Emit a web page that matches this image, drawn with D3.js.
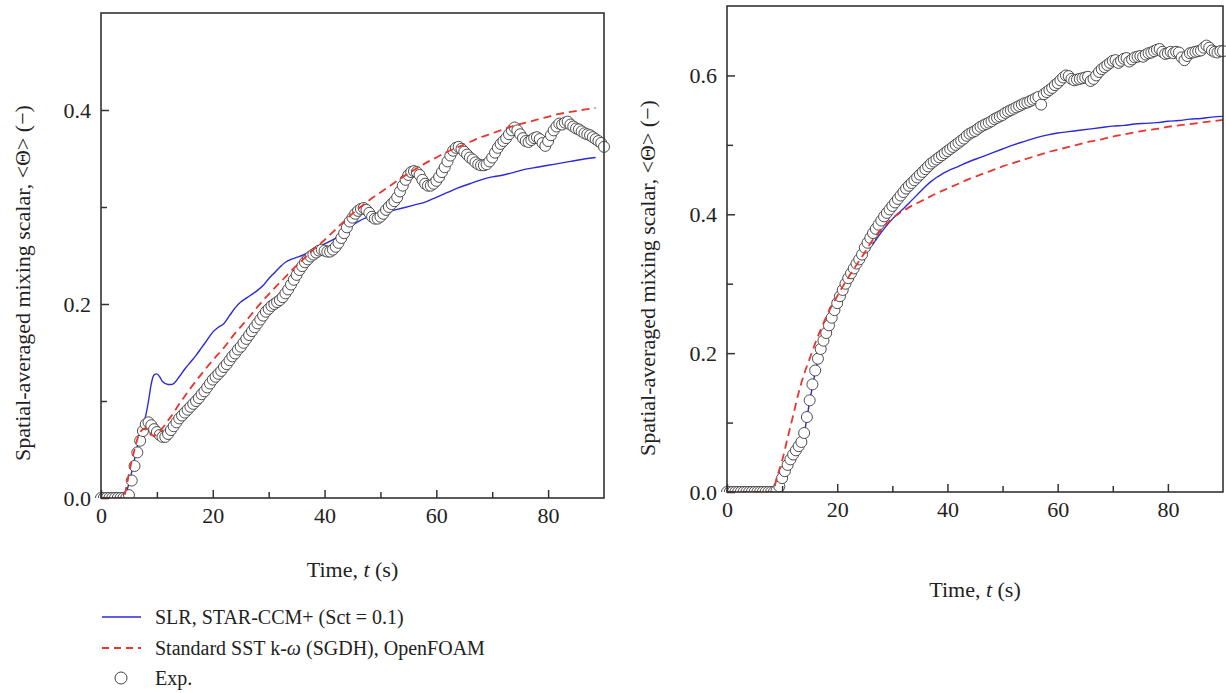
<!DOCTYPE html>
<html>
<head>
<meta charset="utf-8">
<script src="https://cdn.jsdelivr.net/npm/d3@7/dist/d3.min.js"></script>
<style>
  body { margin: 0; background: #fff; }
  svg text { font-family: "Liberation Serif", "DejaVu Serif", serif; fill: #222; }
</style>
</head>
<body>
<svg id="chart" width="1226" height="693"></svg>
<script>
// ---- data ----
const xTicks = [0, 20, 40, 60, 80];
const xMinorTicks = [10, 30, 50, 70];
const yTicksLeft = [0, 0.2, 0.4];
const yMinorLeft = [0.1, 0.3];
const yTicksRight = [0, 0.2, 0.4, 0.6];
const yMinorRight = [0.1, 0.3, 0.5];

// experiment is sampled every expStep seconds, starting at t = 0 (one row = 5 s)
const expStep = 0.5;
const expLeft = [
  0, 0, 0, 0, 0, 0, 0, 0, 0, 0,
  0.003, 0.018, 0.033, 0.047, 0.059, 0.069, 0.076, 0.078, 0.075, 0.071,
  0.068, 0.065, 0.063, 0.063, 0.066, 0.070, 0.074, 0.078, 0.082, 0.085,
  0.088, 0.091, 0.094, 0.097, 0.100, 0.103, 0.107, 0.110, 0.114, 0.118,
  0.122, 0.125, 0.128, 0.131, 0.135, 0.138, 0.142, 0.146, 0.149, 0.153,
  0.156, 0.160, 0.164, 0.168, 0.172, 0.176, 0.180, 0.184, 0.188, 0.192,
  0.195, 0.198, 0.200, 0.202, 0.204, 0.207, 0.211, 0.215, 0.220, 0.225,
  0.230, 0.235, 0.239, 0.243, 0.246, 0.249, 0.251, 0.253, 0.255, 0.256,
  0.255, 0.254, 0.254, 0.256, 0.259, 0.263, 0.268, 0.273, 0.279, 0.285,
  0.289, 0.293, 0.296, 0.298, 0.299, 0.297, 0.294, 0.290, 0.288, 0.288,
  0.290, 0.293, 0.297, 0.300, 0.303, 0.306, 0.310, 0.316, 0.322, 0.328,
  0.333, 0.336, 0.337, 0.336, 0.333, 0.328, 0.324, 0.322, 0.322, 0.324,
  0.327, 0.331, 0.336, 0.341, 0.347, 0.353, 0.358, 0.361, 0.362, 0.360,
  0.357, 0.354, 0.351, 0.349, 0.346, 0.344, 0.343, 0.343, 0.344, 0.347,
  0.351, 0.356, 0.361, 0.365, 0.368, 0.371, 0.375, 0.379, 0.382, 0.379,
  0.375, 0.371, 0.368, 0.367, 0.369, 0.371, 0.372, 0.370, 0.366, 0.363,
  0.368, 0.374, 0.379, 0.383, 0.386, 0.385, 0.387, 0.388, 0.385, 0.383,
  0.381, 0.380, 0.378, 0.376, 0.375, 0.374, 0.372, 0.370, 0.368, 0.366,
  0.362
];
const expRight = [
  0, 0, 0, 0, 0, 0, 0, 0, 0, 0,
  0, 0, 0, 0, 0, 0, 0, 0, 0.002, 0.008,
  0.020, 0.030, 0.039, 0.047, 0.054, 0.060, 0.066, 0.072, 0.085, 0.108,
  0.132, 0.155, 0.175, 0.192, 0.206, 0.218, 0.229, 0.240, 0.251, 0.262,
  0.272, 0.282, 0.291, 0.300, 0.308, 0.315, 0.322, 0.329, 0.335, 0.342,
  0.352, 0.359, 0.366, 0.373, 0.379, 0.385, 0.391, 0.397, 0.402, 0.407,
  0.412, 0.417, 0.422, 0.427, 0.432, 0.437, 0.441, 0.445, 0.449, 0.453,
  0.457, 0.461, 0.465, 0.469, 0.473, 0.476, 0.479, 0.482, 0.485, 0.488,
  0.491, 0.494, 0.497, 0.500, 0.503, 0.506, 0.509, 0.513, 0.516, 0.518,
  0.520, 0.523, 0.526, 0.528, 0.530, 0.532, 0.534, 0.537, 0.539, 0.541,
  0.543, 0.546, 0.548, 0.550, 0.552, 0.554, 0.556, 0.558, 0.560, 0.561,
  0.563, 0.565, 0.567, 0.569, 0.558, 0.573, 0.576, 0.579, 0.582, 0.586,
  0.589, 0.593, 0.597, 0.600, 0.599, 0.595, 0.593, 0.594, 0.595, 0.596,
  0.597, 0.598, 0.592, 0.595, 0.600, 0.605, 0.609, 0.612, 0.615, 0.618,
  0.621, 0.622, 0.618, 0.621, 0.624, 0.625, 0.620, 0.623, 0.626, 0.627,
  0.628, 0.627, 0.630, 0.632, 0.633, 0.635, 0.637, 0.638, 0.634, 0.631,
  0.632, 0.634, 0.632, 0.634, 0.633, 0.626, 0.622, 0.628, 0.632, 0.633,
  0.634, 0.635, 0.636, 0.640, 0.643, 0.640, 0.636, 0.634, 0.633, 0.635,
  0.635
];

// [time (s), value]
const slrLeft = [
  [0, 0], [4, 0], [5, 0.015], [6, 0.04], [7, 0.065], [7.5, 0.075], [8, 0.085], [8.5, 0.1],
  [9, 0.118], [9.5, 0.127], [10, 0.128], [10.5, 0.125], [11, 0.12], [12, 0.117], [12.5, 0.117],
  [13, 0.118], [14, 0.125], [15, 0.133], [16, 0.14], [17, 0.147], [18, 0.155], [19, 0.163],
  [20, 0.171], [21, 0.176], [22, 0.18], [23, 0.188], [24, 0.196], [25, 0.202], [26, 0.206],
  [27, 0.21], [28, 0.214], [29, 0.219], [30, 0.226], [31, 0.232], [32, 0.238], [33, 0.243],
  [34, 0.246], [35, 0.248], [36, 0.25], [38, 0.256], [40, 0.262], [42, 0.268], [44, 0.277],
  [46, 0.285], [48, 0.29], [50, 0.293], [52, 0.296], [54, 0.299], [56, 0.302], [58, 0.305],
  [60, 0.31], [62, 0.315], [64, 0.32], [66, 0.324], [68, 0.328], [70, 0.331], [72, 0.333],
  [74, 0.336], [76, 0.339], [78, 0.341], [80, 0.343], [82, 0.345], [84, 0.347], [86, 0.349],
  [88.5, 0.351]
];
const sstLeft = [
  [0, 0], [4, 0], [4.5, 0.01], [5, 0.025], [6, 0.05], [7, 0.068], [8, 0.072], [8.5, 0.068],
  [9, 0.065], [9.5, 0.064], [10, 0.066], [11, 0.072], [12, 0.08], [13, 0.088], [14, 0.097],
  [15, 0.105], [16, 0.113], [18, 0.128], [20, 0.142], [22, 0.155], [24, 0.17], [26, 0.183],
  [28, 0.197], [30, 0.21], [32, 0.222], [34, 0.234], [36, 0.245], [38, 0.256], [40, 0.266],
  [42, 0.277], [44, 0.288], [46, 0.298], [48, 0.307], [50, 0.315], [52, 0.323], [54, 0.331],
  [56, 0.338], [58, 0.345], [60, 0.351], [62, 0.357], [64, 0.362], [66, 0.367], [68, 0.372],
  [70, 0.376], [72, 0.38], [74, 0.384], [76, 0.387], [78, 0.39], [80, 0.393], [82, 0.396],
  [84, 0.398], [86, 0.4], [88.5, 0.402]
];
const slrRight = [
  [0, 0], [9, 0], [10, 0.02], [11, 0.039], [12, 0.054], [13, 0.066], [14, 0.085], [15, 0.13],
  [16, 0.172], [17, 0.204], [18, 0.228], [19, 0.25], [20, 0.27], [21, 0.288], [22, 0.303],
  [23, 0.316], [24, 0.328], [25, 0.34], [26, 0.352], [27, 0.363], [28, 0.374], [29, 0.384],
  [30, 0.393], [31, 0.401], [32, 0.408], [33, 0.416], [34, 0.424], [35, 0.432], [36, 0.44],
  [37, 0.447], [38, 0.453], [39, 0.458], [40, 0.462], [42, 0.469], [44, 0.476], [46, 0.482],
  [48, 0.488], [50, 0.494], [52, 0.5], [54, 0.505], [56, 0.51], [58, 0.514], [60, 0.517],
  [62, 0.519], [64, 0.521], [66, 0.523], [68, 0.525], [70, 0.527], [72, 0.528], [74, 0.53],
  [76, 0.531], [78, 0.532], [80, 0.534], [82, 0.535], [84, 0.537], [86, 0.538], [88, 0.54],
  [90, 0.541]
];
const sstRight = [
  [0, 0], [8.3, 0], [9, 0.02], [10, 0.045], [11, 0.078], [12, 0.11], [13, 0.143], [14, 0.17],
  [15, 0.192], [16, 0.214], [17, 0.234], [18, 0.252], [19, 0.268], [20, 0.282], [21, 0.296],
  [22, 0.309], [23, 0.321], [24, 0.333], [25, 0.345], [26, 0.358], [27, 0.369], [28, 0.379],
  [29, 0.387], [30, 0.394], [31, 0.4], [32, 0.405], [33, 0.41], [34, 0.414], [36, 0.422],
  [38, 0.43], [40, 0.437], [42, 0.444], [44, 0.451], [46, 0.457], [48, 0.463], [50, 0.469],
  [52, 0.474], [54, 0.479], [56, 0.484], [58, 0.489], [60, 0.493], [62, 0.497], [64, 0.501],
  [66, 0.505], [68, 0.508], [70, 0.512], [72, 0.515], [74, 0.518], [76, 0.521], [78, 0.523],
  [80, 0.526], [82, 0.528], [84, 0.53], [86, 0.532], [88, 0.534], [90, 0.536]
];

const legendLabels = ['SLR, STAR-CCM+ (Sct = 0.1)', 'Standard SST k-', 'Exp.'];

const BLUE = '#2a2ad8', RED = '#e8352d', INK = '#333';
const SERIF = '"Liberation Serif", "DejaVu Serif", serif';

const svg = d3.select('#chart');

function renderPanel(p) {
    let x = d3.scaleLinear().domain([0, 90]).range([0, p.width]),
        y = d3.scaleLinear().domain([0, p.yMax]).range([p.height, 0]);

    let g = svg.append('g').attr('transform', 'translate(' + p.left + ',' + p.top + ')');

    // clip only at the bottom so zero-level markers sit on the axis
    g.append('clipPath').attr('id', 'clip-' + p.id)
        .append('rect').attr('x', -10).attr('y', -10)
        .attr('width', p.width + 20).attr('height', p.height + 10);

    let plot = g.append('g').attr('clip-path', 'url(#clip-' + p.id + ')');
    let line = d3.line().x(d => x(d[0])).y(d => y(d[1])).curve(d3.curveMonotoneX);

    // blue runs underneath the markers, red dashes on top
    plot.append('path').datum(p.slr)
        .attr('fill', 'none').attr('stroke', BLUE)
        .attr('stroke-width', 1.4)
        .attr('d', line);

    let pts = p.exp.map((v, i) => [i * expStep, v]);
    plot.selectAll('circle.exp')
        .data(pts)
        .enter().append('circle')
        .attr('class', 'exp')
        .attr('cx', d => x(d[0]))
        .attr('cy', d => y(d[1]))
        .attr('r', 5.5)
        .attr('fill', '#fff')
        .attr('stroke', '#3a3a3a')
        .attr('stroke-width', 0.9);

    plot.append('path').datum(p.sst)
        .attr('fill', 'none').attr('stroke', RED)
        .attr('stroke-width', 1.8).attr('stroke-dasharray', '8,5')
        .attr('d', line);

    // inward ticks
    g.append('g').attr('class', 'axis')
        .attr('transform', 'translate(0,' + p.height + ')')
        .call(d3.axisBottom(x).tickValues(xTicks).tickSize(-8).tickPadding(9).tickFormat(d3.format('d')));
    g.append('g').attr('class', 'axis minor')
        .attr('transform', 'translate(0,' + p.height + ')')
        .call(d3.axisBottom(x).tickValues(xMinorTicks).tickSize(-6).tickFormat(''));
    g.append('g').attr('class', 'axis')
        .call(d3.axisLeft(y).tickValues(p.yTicks).tickSize(-8).tickPadding(10).tickFormat(d3.format('.1f')));
    g.append('g').attr('class', 'axis minor')
        .call(d3.axisLeft(y).tickValues(p.yMinor).tickSize(-6).tickFormat(''));

    g.selectAll('.axis path').remove();
    g.selectAll('.axis line').attr('stroke', INK).attr('stroke-width', 1.5);
    g.selectAll('.axis').attr('font-family', null).attr('font-size', null);
    g.selectAll('.axis text')
        .style('font-family', SERIF)
        .style('font-size', '22px').style('fill', '#222');

    g.append('rect')
        .attr('width', p.width).attr('height', p.height)
        .attr('fill', 'none').attr('stroke', INK).attr('stroke-width', 1.6);

    // axis titles
    let xt = svg.append('text')
        .attr('x', p.left + p.width / 2).attr('y', p.xTitleY)
        .attr('text-anchor', 'middle').attr('font-size', 22);
    xt.append('tspan').text('Time, ');
    xt.append('tspan').attr('font-style', 'italic').text('t');
    xt.append('tspan').text(' (s)');

    svg.append('text')
        .attr('transform', 'translate(' + p.yTitleX + ',' + p.yTitleY + ') rotate(-90)')
        .attr('text-anchor', 'middle').attr('font-size', 22)
        .text('Spatial-averaged mixing scalar, <\u0398> (\u2212)');
}

renderPanel({ id: 'left', left: 101, top: 13, width: 503, height: 485, yMax: 0.5,
    yTicks: yTicksLeft, yMinor: yMinorLeft, exp: expLeft, slr: slrLeft, sst: sstLeft,
    xTitleY: 577, yTitleX: 30, yTitleY: 283 });

renderPanel({ id: 'right', left: 727, top: 6, width: 496, height: 486, yMax: 0.7,
    yTicks: yTicksRight, yMinor: yMinorRight, exp: expRight, slr: slrRight, sst: sstRight,
    xTitleY: 597, yTitleX: 655, yTitleY: 278 });

// legend
let lg = svg.append('g').attr('transform', 'translate(102,0)');
lg.append('line').attr('x1', 0).attr('x2', 39).attr('y1', 617).attr('y2', 617)
    .attr('stroke', BLUE).attr('stroke-width', 1.6);
lg.append('line').attr('x1', 0).attr('x2', 39).attr('y1', 648).attr('y2', 648)
    .attr('stroke', RED).attr('stroke-width', 1.8).attr('stroke-dasharray', '7,5');
lg.append('circle').attr('cx', 19).attr('cy', 678).attr('r', 6)
    .attr('fill', '#fff').attr('stroke', '#444').attr('stroke-width', 1);

lg.append('text').attr('x', 53).attr('y', 624).attr('font-size', 20).text(legendLabels[0]);
let t2 = lg.append('text').attr('x', 53).attr('y', 655).attr('font-size', 20);
t2.append('tspan').text(legendLabels[1]);
t2.append('tspan').attr('font-style', 'italic').text('\u03c9');
t2.append('tspan').text(' (SGDH), OpenFOAM');
lg.append('text').attr('x', 53).attr('y', 685).attr('font-size', 20).text(legendLabels[2]);
</script>
</body>
</html>
